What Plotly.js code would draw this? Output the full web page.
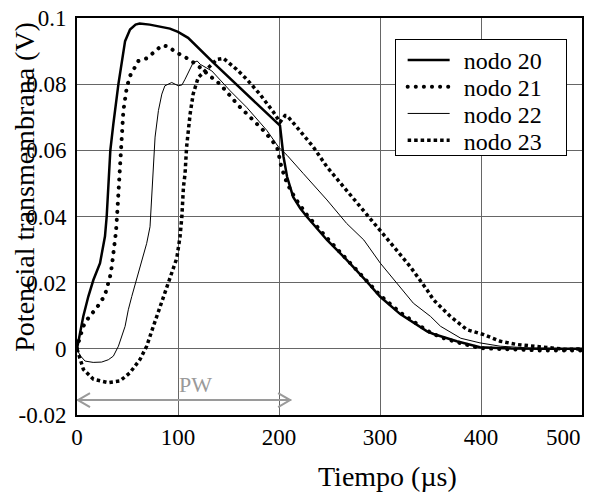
<!DOCTYPE html>
<html>
<head>
<meta charset="utf-8">
<script src="https://cdn.plot.ly/plotly-3.0.1.min.js"></script>
<style>html,body{margin:0;padding:0;background:#fff;}#chart{width:592px;height:495px;}</style>
</head>
<body>
<div id="chart"></div>
<script>
// ---- data ----
const seriesNames = ["nodo 20", "nodo 21", "nodo 22", "nodo 23"];

const t20 = [0, 3, 6.2, 11.2, 16.2, 22.8, 27.7, 29.4, 31.5, 33, 36, 41, 47.6, 52.5, 58, 62, 72, 79, 92, 100, 110, 135, 161.5, 180, 201, 204.5, 208, 214, 221, 227.6, 247.5, 267, 287, 300, 320, 346.6, 353, 376, 399, 430, 460, 500];
const v20 = [0, 0.0048, 0.0098, 0.0158, 0.0208, 0.0259, 0.034, 0.040, 0.050, 0.060, 0.068, 0.080, 0.093, 0.0965, 0.0980, 0.0983, 0.0980, 0.0975, 0.0968, 0.0958, 0.094, 0.0865, 0.079, 0.0735, 0.0675, 0.058, 0.052, 0.0459, 0.0425, 0.0399, 0.0329, 0.0269, 0.0203, 0.0158, 0.0105, 0.0053, 0.0045, 0.0023, 0.0005, 0.0001, 0, 0];

const t21 = [0, 1.3, 6.2, 11.2, 17.8, 22.8, 27.7, 30, 32.7, 34.4, 36, 37.7, 38.6, 40, 41, 42.6, 44.3, 45.9, 49.3, 52.5, 60.8, 68.9, 75.6, 84, 90.5, 97, 105, 112, 120, 127, 133.5, 141.7, 153, 160, 171.5, 184.6, 193, 198, 200, 201.5, 204.5, 208, 216, 227.6, 247.5, 267, 287, 300, 320, 346.6, 360, 376, 399, 430, 460, 500];
const v21 = [0, 0.0018, 0.0068, 0.0093, 0.0118, 0.0138, 0.0163, 0.0188, 0.0218, 0.0248, 0.0284, 0.0319, 0.0354, 0.0419, 0.0479, 0.0534, 0.062, 0.072, 0.079, 0.0825, 0.087, 0.0878, 0.0895, 0.0917, 0.0914, 0.0898, 0.0885, 0.0873, 0.0855, 0.0835, 0.082, 0.080, 0.076, 0.0735, 0.070, 0.066, 0.063, 0.061, 0.0584, 0.056, 0.053, 0.050, 0.0455, 0.0405, 0.0335, 0.0272, 0.0206, 0.0162, 0.011, 0.0055, 0.0035, 0.002, 0.0002, -0.0003, -0.0005, -0.0005];

const t22 = [0, 3, 8, 16, 24.4, 31, 36, 41, 47.6, 50.8, 54.2, 59, 64, 69, 72.3, 74, 75.6, 77.3, 80.6, 84, 87, 93.8, 100.4, 104, 107, 115, 119, 122, 133.5, 151.6, 168, 188, 199.5, 208, 224, 247.5, 267, 284, 300.3, 317, 333, 350, 360, 380, 399, 419, 450, 500];
const v22 = [0, -0.002, -0.0037, -0.0041, -0.004, -0.0033, -0.0022, 0.0008, 0.0068, 0.0118, 0.0158, 0.0208, 0.0259, 0.0319, 0.0369, 0.0459, 0.054, 0.064, 0.072, 0.077, 0.0795, 0.0805, 0.0795, 0.0798, 0.0815, 0.0865, 0.087, 0.086, 0.084, 0.078, 0.073, 0.066, 0.061, 0.0585, 0.053, 0.045, 0.0379, 0.0329, 0.0259, 0.0198, 0.0138, 0.0098, 0.0068, 0.0032, 0.0018, 0.0008, 0.0002, 0];

const t23 = [0, 3, 6.3, 16.2, 31, 42.6, 52.5, 62.4, 69, 75.6, 82.3, 89, 95.4, 98.8, 102, 103.8, 105.4, 107, 108.5, 112, 115, 120, 128.5, 138.5, 145, 158, 168, 181, 194.6, 201, 206, 208, 217.7, 234, 247.5, 263.6, 280.5, 297, 313.5, 330, 346.6, 353, 369.7, 386, 402.7, 419, 435.8, 452, 485, 500];
const v23 = [0, -0.0032, -0.0062, -0.0092, -0.0102, -0.0097, -0.0072, -0.0032, 0.0008, 0.0068, 0.0128, 0.0188, 0.0248, 0.0274, 0.0339, 0.0399, 0.0489, 0.053, 0.061, 0.071, 0.077, 0.082, 0.0845, 0.0875, 0.0878, 0.0845, 0.0815, 0.077, 0.0715, 0.0685, 0.0705, 0.0705, 0.067, 0.061, 0.055, 0.049, 0.0429, 0.0369, 0.0309, 0.0248, 0.0178, 0.0148, 0.0098, 0.0058, 0.0043, 0.0023, 0.0013, 0.0008, -0.0002, 0];

const xTickVals = [0, 100, 200, 300, 400, 500];
const xTickText = ["0", "100", "200", "300", "400", "500"];
const yTickVals = [-0.02, 0, 0.02, 0.04, 0.06, 0.08, 0.1];
const yTickText = ["-0.02", "0", "0.02", "0.04", "0.06", "0.08", "0.1"];

const pwStart = 0, pwEnd = 212, pwLevel = -0.0155;
const pwLabel = "PW", pwLabelX = 117, pwLabelY = -0.0107;

const xTitle = "Tiempo (µs)";
const yTitle = "Potencial transmembrana (V)";

// ---- chart ----
const FONT = "'Liberation Serif', 'Times New Roman', serif";
const GRAY = "#9a9a9a";
const nX = xTickVals.length;

// the last x label sits right-aligned against the frame in the reference,
// so it is drawn as an annotation anchored at the last tick value
const xTickLabels = xTickText.map((s, i) => i === nX - 1 ? "" : s);

const traces = [
  {x: t20, y: v20, name: seriesNames[0], mode: "lines", line: {color: "#000", width: 2.5}},
  {x: t21, y: v21, name: seriesNames[1], mode: "lines", line: {color: "#000", width: 4, dash: "0.1px,8px"}},
  {x: t22, y: v22, name: seriesNames[2], mode: "lines", line: {color: "#000", width: 1}},
  {x: t23, y: v23, name: seriesNames[3], mode: "lines", line: {color: "#000", width: 3.5, dash: "3.5px,3px"}}
];

const layout = {
  width: 592, height: 495,
  margin: {l: 77, r: 10, t: 18, b: 80},
  paper_bgcolor: "#fff", plot_bgcolor: "#fff",
  font: {family: FONT, size: 23, color: "#000"},
  showlegend: true,
  legend: {
    x: 0.629, y: 0.947, xanchor: "left", yanchor: "top",
    bgcolor: "#fff", bordercolor: "#000", borderwidth: 1,
    font: {family: FONT, size: 24, color: "#000"}
  },
  xaxis: {
    range: [0, 500], tickvals: xTickVals, ticktext: xTickLabels, ticks: "", showgrid: true,
    gridcolor: "#666", gridwidth: 1, zeroline: false,
    showline: true, linecolor: "#000", linewidth: 2, mirror: true,
    tickfont: {family: FONT, size: 23}, fixedrange: true
  },
  yaxis: {
    range: [-0.02, 0.1], tickvals: yTickVals, ticktext: yTickText, ticks: "",
    showgrid: true, gridcolor: "#666", gridwidth: 1, zeroline: false,
    showline: true, linecolor: "#000", linewidth: 2, mirror: true,
    tickfont: {family: FONT, size: 23}, ticklabelstandoff: 4, fixedrange: true
  },
  shapes: [
    {type: "line", xref: "x", yref: "y", x0: pwStart, x1: pwEnd, y0: pwLevel, y1: pwLevel,
     line: {color: GRAY, width: 2}},
    {type: "path", xref: "x", yref: "y", xsizemode: "pixel", ysizemode: "pixel",
     xanchor: pwStart, yanchor: pwLevel, path: "M13,7 L1,0 L13,-7",
     line: {color: GRAY, width: 2}},
    {type: "path", xref: "x", yref: "y", xsizemode: "pixel", ysizemode: "pixel",
     xanchor: pwEnd, yanchor: pwLevel, path: "M-13,7 L-1,0 L-13,-7",
     line: {color: GRAY, width: 2}}
  ],
  annotations: [
    {xref: "x", yref: "paper", x: xTickVals[nX - 1], y: -0.056, text: xTickText[nX - 1], showarrow: false,
     xanchor: "right", yanchor: "middle", xshift: 1, font: {family: FONT, size: 23, color: "#000"}},
    {xref: "x", yref: "y", x: pwLabelX, y: pwLabelY, text: pwLabel, showarrow: false,
     font: {family: FONT, size: 22, color: GRAY}},
    {xref: "paper", yref: "paper", x: 0.615, y: -0.154, text: xTitle, showarrow: false,
     xanchor: "center", yanchor: "middle", font: {family: FONT, size: 28, color: "#000"}},
    {xref: "paper", yref: "paper", x: -0.103, y: 0.575, text: yTitle, showarrow: false,
     textangle: -90, xanchor: "center", yanchor: "middle", font: {family: FONT, size: 28, color: "#000"}}
  ]
};

Plotly.newPlot("chart", traces, layout, {displayModeBar: false, staticPlot: true}).then(function (gd) {
  const roundIdx = 1;
  const tr = gd.querySelectorAll(".scatterlayer .trace");
  if (tr[roundIdx]) tr[roundIdx].querySelectorAll("path.js-line").forEach(p => p.style.strokeLinecap = "round");
  const lg = gd.querySelectorAll(".legend .traces");
  if (lg[roundIdx]) lg[roundIdx].querySelectorAll("path.js-line").forEach(p => p.style.strokeLinecap = "round");

  // tighten legend to the reference's compact box
  try {
    const legend = gd.querySelector(".legend");
    const rowGap = 26.7, firstRow = 21, boxW = 171, boxH = 116;
    lg.forEach((g, i) => {
      g.setAttribute("transform", "translate(8," + (firstRow + i * rowGap) + ")");
      g.querySelectorAll("path.js-line").forEach(p => p.setAttribute("d", "M5,0h42"));
      g.querySelectorAll("text.legendtext").forEach(t => t.setAttribute("x", "61"));
    });
    const sb = legend.querySelector(".scrollbox");
    if (sb) { sb.removeAttribute("clip-path"); sb.setAttribute("transform", "translate(0,0)"); }
    const bg = legend.querySelector("rect.bg");
    if (bg) { bg.setAttribute("width", boxW); bg.setAttribute("height", boxH); }
  } catch (e) {}
});
</script>
</body>
</html>
